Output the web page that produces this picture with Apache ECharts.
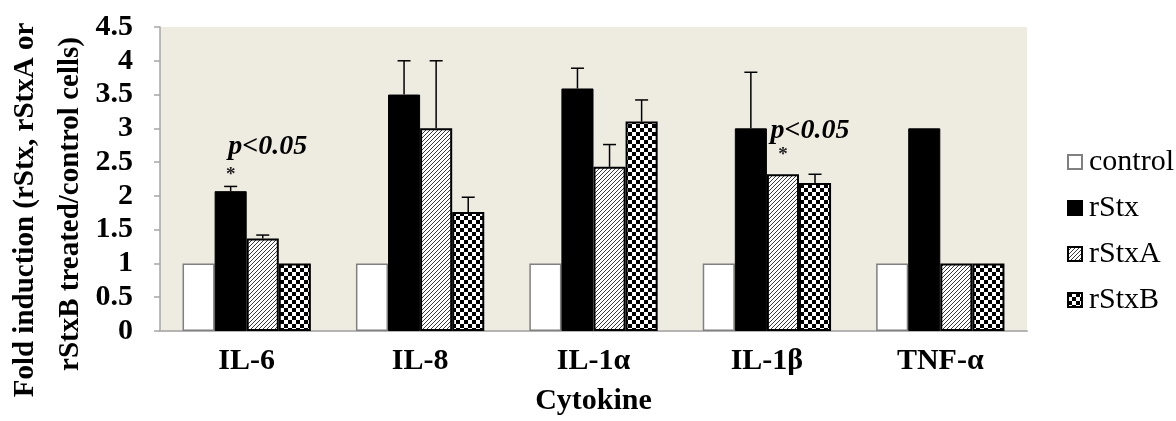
<!DOCTYPE html>
<html>
<head>
<meta charset="utf-8">
<script src="https://cdn.jsdelivr.net/npm/echarts@6/dist/echarts.min.js"></script>
<style>
html,body{margin:0;padding:0;background:#fff;}
#chart{width:1176px;height:421px;}
</style>
</head>
<body>
<div id="chart"></div>
<script>
// ---- data ----
const categories = ['IL-6', 'IL-8', 'IL-1\u03b1', 'IL-1\u03b2', 'TNF-\u03b1'];
const seriesNames = ['control', 'rStx', 'rStxA', 'rStxB'];
const controlVals = [1, 1, 1, 1, 1];
const rStxVals    = [2.07, 3.5, 3.59, 3.0, 3.0];
const rStxAVals   = [1.37, 3.0, 2.43, 2.32, 1.0];
const rStxBVals   = [1.0, 1.76, 3.1, 2.19, 1.0];
const controlErr  = [0, 0, 0, 0, 0];
const rStxErr     = [0.07, 0.5, 0.3, 0.83, 0];
const rStxAErr    = [0.05, 1.0, 0.33, 0, 0];
const rStxBErr    = [0, 0.22, 0.32, 0.13, 0];
const yMin = 0, yMax = 4.5, yInterval = 0.5;
const annotCat    = [0, 3];          // category index
const annotSeries = [1, 2];          // series index of starred bar
const annotText   = ['p<0.05', 'p<0.05'];
const annotTextY  = [2.72, 2.97];
const annotStarY  = [2.31, 2.61];
const xTitle = 'Cytokine';
const yTitle1 = 'Fold induction (rStx, rStxA or';
const yTitle2 = 'rStxB treated/control cells)';

// ---- layout / style constants ----
const SERIF = '"Liberation Serif", "Times New Roman", serif';
const CAT_GAP = 0.26;
const annotTextDx = [21, 43];

function makeHatch() {
  const c = document.createElement('canvas');
  c.width = 4; c.height = 4;
  const g = c.getContext('2d');
  g.fillStyle = '#fff'; g.fillRect(0, 0, 4, 4);
  g.strokeStyle = '#3a3a3a'; g.lineWidth = 1;
  g.beginPath();
  g.moveTo(-1, 5); g.lineTo(5, -1);
  g.moveTo(-1, 1); g.lineTo(1, -1);
  g.moveTo(3, 5); g.lineTo(5, 3);
  g.stroke();
  return c;
}
function makeChecker() {
  const c = document.createElement('canvas');
  c.width = 8; c.height = 8;
  const g = c.getContext('2d');
  g.fillStyle = '#fff'; g.fillRect(0, 0, 8, 8);
  g.fillStyle = '#000';
  g.fillRect(0, 0, 4, 4); g.fillRect(4, 4, 4, 4);
  return c;
}
const hatch = { image: makeHatch(), repeat: 'repeat' };
const checker = { image: makeChecker(), repeat: 'repeat' };

const vals = [controlVals, rStxVals, rStxAVals, rStxBVals];
const errs = [controlErr, rStxErr, rStxAErr, rStxBErr];
const styles = [
  { color: '#fff', borderColor: '#808080', borderWidth: 1.5 },
  { color: '#000', borderColor: '#000', borderWidth: 1 },
  { color: hatch, borderColor: '#000', borderWidth: 2 },
  { color: checker, borderColor: '#000', borderWidth: 2 }
];

const barSeries = seriesNames.map((n, i) => ({
  name: n,
  type: 'bar',
  data: vals[i],
  barGap: '0%',
  barCategoryGap: (CAT_GAP * 100) + '%',
  itemStyle: styles[i],
  emphasis: { disabled: true }
}));

const errData = [];
errs.forEach((arr, si) => arr.forEach((e, ci) => {
  if (e > 0) errData.push([ci, vals[si][ci], e, si]);
}));

function barX(api, ci, si) {
  const c = api.coord([ci, 0]);
  const band = api.size([1, 0])[0];
  const bw = band * (1 - CAT_GAP) / 4;
  return c[0] - 2 * bw + (si + 0.5) * bw;
}

const errSeries = {
  type: 'custom',
  z: 5,
  silent: true,
  encode: { x: 0, y: 1 },
  data: errData,
  renderItem: function (params, api) {
    const ci = api.value(0), v = api.value(1), e = api.value(2), si = api.value(3);
    const x = barX(api, ci, si);
    const y0 = api.coord([ci, v])[1];
    const y1 = api.coord([ci, v + e])[1];
    const st = { stroke: '#000', lineWidth: 1.5 };
    return {
      type: 'group',
      children: [
        { type: 'line', shape: { x1: x, y1: y0, x2: x, y2: y1 }, style: st },
        { type: 'line', shape: { x1: x - 6.5, y1: y1, x2: x + 6.5, y2: y1 }, style: st }
      ]
    };
  }
};

const annotData = annotCat.map((c, i) => [c, annotTextY[i], annotStarY[i], annotSeries[i], i]);
const annotSeriesObj = {
  type: 'custom',
  z: 6,
  silent: true,
  encode: { x: 0, y: 1 },
  data: annotData,
  renderItem: function (params, api) {
    const ci = api.value(0), ty = api.value(1), sy = api.value(2), si = api.value(3), k = api.value(4);
    const cx = api.coord([ci, 0])[0];
    const tp = api.coord([ci, ty]);
    const sp = api.coord([ci, sy]);
    const bx = barX(api, ci, si);
    return {
      type: 'group',
      children: [
        { type: 'text', x: cx + annotTextDx[k], y: tp[1],
          style: { text: annotText[k], fill: '#000', font: 'italic bold 28px ' + SERIF,
                   align: 'center', verticalAlign: 'middle', textAlign: 'center', textVerticalAlign: 'middle' } },
        { type: 'text', x: bx, y: sp[1],
          style: { text: '*', fill: '#222', font: 'bold 19px ' + SERIF,
                   align: 'center', verticalAlign: 'middle', textAlign: 'center', textVerticalAlign: 'middle' } }
      ]
    };
  }
};

const chart = echarts.init(document.getElementById('chart'), null, { renderer: 'canvas' });
chart.setOption({
  animation: false,
  backgroundColor: '#fff',
  grid: { left: 160, right: 149, top: 27, bottom: 88, show: true, backgroundColor: '#eeebe0', borderWidth: 0 },
  legend: {
    orient: 'vertical',
    left: 1062,
    top: 142,
    itemWidth: 14,
    itemHeight: 14,
    itemGap: 16,
    icon: 'rect',
    data: seriesNames,
    textStyle: { fontFamily: SERIF, fontSize: 30, color: '#000', lineHeight: 30, padding: [0, 0, 0, 2] }
  },
  xAxis: {
    type: 'category',
    data: categories,
    name: xTitle,
    nameLocation: 'middle',
    nameGap: 55,
    nameTextStyle: { fontFamily: SERIF, fontSize: 30, fontWeight: 'bold', color: '#000' },
    axisLine: { show: true, lineStyle: { color: '#b4b4b4', width: 2 } },
    axisTick: { show: false },
    axisLabel: { fontFamily: SERIF, fontSize: 30, fontWeight: 'bold', color: '#000', margin: 15 },
    splitLine: { show: false }
  },
  yAxis: {
    type: 'value',
    min: yMin,
    max: yMax,
    interval: yInterval,
    axisLine: { show: true, lineStyle: { color: '#a6a6a6', width: 1.5 } },
    axisTick: { show: true, inside: false, length: 6, lineStyle: { color: '#a6a6a6', width: 1.5 } },
    axisLabel: { fontFamily: SERIF, fontSize: 30, fontWeight: 'bold', color: '#000', margin: 27 },
    splitLine: { show: false }
  },
  graphic: [
    { type: 'text', x: 26, y: 210, rotation: Math.PI / 2,
      style: { text: yTitle1, fill: '#000', font: 'bold 29px ' + SERIF,
               align: 'center', verticalAlign: 'middle', textAlign: 'center', textVerticalAlign: 'middle' } },
    { type: 'text', x: 71, y: 204, rotation: Math.PI / 2,
      style: { text: yTitle2, fill: '#000', font: 'bold 29px ' + SERIF,
               align: 'center', verticalAlign: 'middle', textAlign: 'center', textVerticalAlign: 'middle' } }
  ],
  series: barSeries.concat([errSeries, annotSeriesObj])
});
</script>
</body>
</html>
